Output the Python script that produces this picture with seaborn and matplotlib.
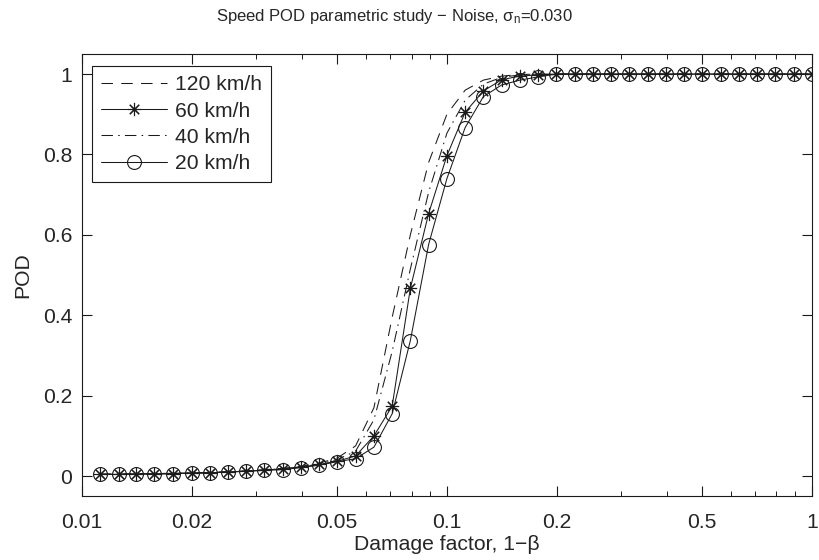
import numpy as np
import pandas as pd
import matplotlib
matplotlib.use("Agg")
import matplotlib.pyplot as plt
import seaborn as sns
from matplotlib.ticker import FixedLocator, NullFormatter

# ---- data -------------------------------------------------------------
damage = [0.0112, 0.0126, 0.0141, 0.0158, 0.0178, 0.0200, 0.0224, 0.0251,
          0.0282, 0.0316, 0.0355, 0.0398, 0.0447, 0.0501, 0.0562, 0.0631,
          0.0708, 0.0794, 0.0891, 0.1000, 0.1122, 0.1259, 0.1413, 0.1585,
          0.1778, 0.1995, 0.2239, 0.2512, 0.2818, 0.3162, 0.3548, 0.3981,
          0.4467, 0.5012, 0.5623, 0.6310, 0.7079, 0.7943, 0.8913, 1.0000]

pod_120 = [0.005, 0.005, 0.006, 0.006, 0.007, 0.008, 0.009, 0.011, 0.013, 0.016,
           0.019, 0.024, 0.032, 0.045, 0.075, 0.170, 0.395, 0.600, 0.780, 0.900,
           0.960, 0.985, 0.995, 0.999, 1.0, 1.0, 1.0, 1.0, 1.0, 1.0,
           1.0, 1.0, 1.0, 1.0, 1.0, 1.0, 1.0, 1.0, 1.0, 1.0]
pod_60 = [0.004, 0.004, 0.005, 0.005, 0.006, 0.007, 0.008, 0.010, 0.012, 0.015,
          0.018, 0.022, 0.029, 0.037, 0.050, 0.100, 0.174, 0.467, 0.653, 0.797,
          0.905, 0.958, 0.986, 0.995, 0.998, 1.0, 1.0, 1.0, 1.0, 1.0,
          1.0, 1.0, 1.0, 1.0, 1.0, 1.0, 1.0, 1.0, 1.0, 1.0]
pod_40 = [0.005, 0.005, 0.005, 0.006, 0.007, 0.008, 0.009, 0.010, 0.012, 0.015,
          0.018, 0.023, 0.030, 0.041, 0.062, 0.140, 0.310, 0.515, 0.706, 0.853,
          0.935, 0.975, 0.992, 0.998, 1.0, 1.0, 1.0, 1.0, 1.0, 1.0,
          1.0, 1.0, 1.0, 1.0, 1.0, 1.0, 1.0, 1.0, 1.0, 1.0]
pod_20 = [0.004, 0.004, 0.005, 0.005, 0.006, 0.007, 0.008, 0.010, 0.012, 0.014,
          0.016, 0.021, 0.027, 0.036, 0.043, 0.072, 0.155, 0.337, 0.576, 0.740,
          0.867, 0.944, 0.973, 0.985, 0.993, 1.0, 1.0, 1.0, 1.0, 1.0,
          1.0, 1.0, 1.0, 1.0, 1.0, 1.0, 1.0, 1.0, 1.0, 1.0]

labels = ["120 km/h", "60 km/h", "40 km/h", "20 km/h"]
x_ticks = [0.01, 0.02, 0.05, 0.1, 0.2, 0.5, 1]
x_ticklabels = ["0.01", "0.02", "0.05", "0.1", "0.2", "0.5", "1"]
y_ticks = [0, 0.2, 0.4, 0.6, 0.8, 1.0]
y_ticklabels = ["0", "0.2", "0.4", "0.6", "0.8", "1"]

# ---- style ------------------------------------------------------------
sns.set_theme(style="white")
FAM = "Liberation Sans"
FS, TFS = 15.2, 12.0
plt.rcParams["font.family"] = [FAM, "DejaVu Sans"]
plt.rcParams["mathtext.fontset"] = "custom"
plt.rcParams["mathtext.rm"] = FAM
plt.rcParams["mathtext.it"] = FAM
plt.rcParams["mathtext.sf"] = FAM

fig = plt.figure(figsize=(8.2, 5.6), dpi=100)
ax = fig.add_axes([0.1, 0.114, 0.89, 0.7896])

lw = 0.75
series = [
    (pod_120, dict(linestyle=(0, (11, 8)), marker=None)),
    (pod_60, dict(linestyle="-", marker=(8, 2, 0), markersize=9.5,
                  markeredgewidth=0.8, markeredgecolor="k")),
    (pod_40, dict(linestyle=(0, (11, 5, 1.5, 5)), marker=None)),
    (pod_20, dict(linestyle="-", marker="o", markersize=10,
                  markerfacecolor="none", markeredgewidth=0.8,
                  markeredgecolor="k")),
]
for (vals, kw), lab in zip(series, labels):
    df = pd.DataFrame({"x": damage, "y": vals})
    sns.lineplot(data=df, x="x", y="y", ax=ax, color="k", linewidth=lw,
                 label=lab, estimator=None, sort=False, **kw)

ax.set_xscale("log")
ax.set_xlim(0.01, 1)
ax.set_ylim(-0.05, 1.05)
ax.xaxis.set_major_locator(FixedLocator(x_ticks))
ax.set_xticklabels(x_ticklabels)
minor = [m * d for d in (0.01, 0.1) for m in range(2, 10)]
minor = [v for v in minor if v not in x_ticks]
ax.xaxis.set_minor_locator(FixedLocator(minor))
ax.xaxis.set_minor_formatter(NullFormatter())
ax.set_yticks(y_ticks)
ax.set_yticklabels(y_ticklabels)

ax.tick_params(axis="both", which="major", direction="in", length=7,
               width=0.8, color="k", labelsize=FS, top=True, right=True,
               bottom=True, left=True, pad=7)
ax.tick_params(axis="x", which="major", pad=12)
ax.tick_params(axis="x", which="minor", direction="in", length=3.5,
               width=0.7, color="k", top=True, bottom=True)
for s in ax.spines.values():
    s.set_color("k")
    s.set_linewidth(0.8)

ax.set_xlabel("Damage factor, 1\u2212\u03b2", fontsize=FS, labelpad=2)
ax.set_ylabel("POD", fontsize=FS, labelpad=8)
fig.text(216 / 820, 1 - 16 / 560,
         "Speed POD parametric study \u2212 Noise, $\\sigma_n$=0.030",
         fontsize=TFS, ha="left", va="center")

leg = ax.legend(loc="upper left", bbox_to_anchor=(0.0137, 0.973),
                borderaxespad=0, fontsize=FS, frameon=True, fancybox=False,
                edgecolor="k", framealpha=1, handlelength=3.1,
                handletextpad=0.38, labelspacing=0.34, borderpad=0.45)
leg.get_frame().set_linewidth(0.8)

fig.savefig("out.png", dpi=100)
